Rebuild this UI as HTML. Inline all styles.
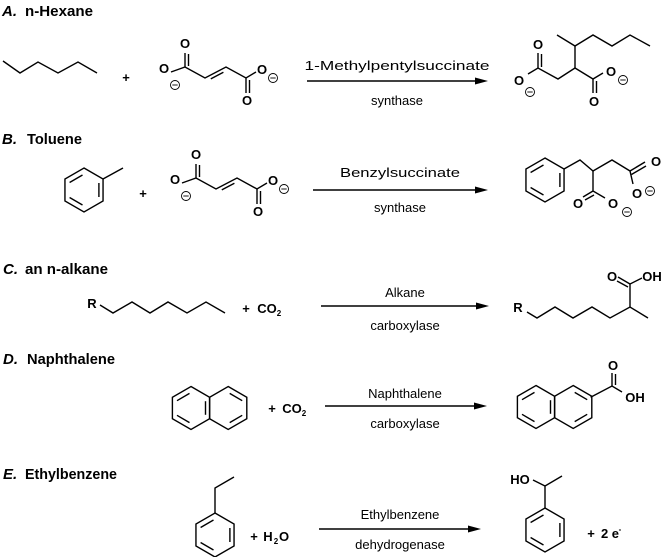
<!DOCTYPE html>
<html><head><meta charset="utf-8">
<style>
html,body{margin:0;padding:0;background:#fff;}
svg{display:block;}
text{font-family:"Liberation Sans Narrow","Liberation Sans",sans-serif;fill:#000;}
.t{font-weight:bold;font-size:15px;}
.a{font-size:13px;}
.o{font-weight:bold;font-size:13px;text-anchor:middle;}
.c{text-anchor:middle;}
</style></head>
<body>
<svg width="663" height="557" viewBox="0 0 663 557" xmlns="http://www.w3.org/2000/svg">
<defs>
<g id="bz" fill="none" stroke="#000" stroke-width="1.4">
<polygon points="0,-22 19.05,-11 19.05,11 0,22 -19.05,11 -19.05,-11"/>
<line x1="-14.4" y1="-7.5" x2="-1.5" y2="-15"/>
<line x1="14.9" y1="-7" x2="14.9" y2="7"/>
<line x1="-1.5" y1="15" x2="-14.4" y2="7.5"/>
</g>
<g id="np" fill="none" stroke="#000" stroke-width="1.4">
<polygon points="0,-21.5 18.6,-10.75 18.6,10.75 0,21.5 -18.6,10.75 -18.6,-10.75"/>
<polygon points="37.2,-21.5 55.8,-10.75 55.8,10.75 37.2,21.5 18.6,10.75 18.6,-10.75"/>
<line x1="-14" y1="-7.3" x2="-1.5" y2="-14.6"/>
<line x1="-1.5" y1="14.6" x2="-14" y2="7.3"/>
<line x1="14.5" y1="-6.8" x2="14.5" y2="6.8"/>
<line x1="38.7" y1="-14.6" x2="51.2" y2="-7.3"/>
<line x1="51.2" y1="7.3" x2="38.7" y2="14.6"/>
</g>
<g id="minus" fill="none" stroke="#000" stroke-width="0.9">
<circle cx="0" cy="0" r="4.5"/><line x1="-2.7" y1="0" x2="2.7" y2="0"/>
</g>
<g id="fum">
<g fill="none" stroke="#000" stroke-width="1.4">
<polyline points="171,72 185,67 205,78 226,67 246,78 256,72"/>
<line x1="210.8" y1="78.9" x2="223.4" y2="72.3"/>
<line x1="185" y1="67" x2="185" y2="53"/><line x1="188.5" y1="66" x2="188.5" y2="54"/>
<line x1="246" y1="78" x2="246" y2="93"/><line x1="249.5" y1="80" x2="249.5" y2="93"/>
</g>
<text class="o" x="185" y="48">O</text>
<text class="o" x="164" y="73">O</text>
<use href="#minus" x="175" y="85"/>
<text class="o" x="262" y="74">O</text>
<use href="#minus" x="273" y="78"/>
<text class="o" x="247" y="105">O</text>
</g>
</defs>

<!-- Titles -->
<text class="t" x="2" y="16" font-style="italic">A.</text><text class="t" x="25" y="16" textLength="68" lengthAdjust="spacingAndGlyphs">n-Hexane</text>
<text class="t" x="2" y="144" font-style="italic">B.</text><text class="t" x="27" y="144" textLength="55" lengthAdjust="spacingAndGlyphs">Toluene</text>
<text class="t" x="3" y="274" font-style="italic">C.</text><text class="t" x="25" y="274" textLength="83" lengthAdjust="spacingAndGlyphs">an n-alkane</text>
<text class="t" x="3" y="364" font-style="italic">D.</text><text class="t" x="27" y="364" textLength="88" lengthAdjust="spacingAndGlyphs">Naphthalene</text>
<text class="t" x="3" y="479" font-style="italic">E.</text><text class="t" x="25" y="479" textLength="92" lengthAdjust="spacingAndGlyphs">Ethylbenzene</text>

<g fill="none" stroke="#000" stroke-width="1.4">
<polyline points="3,61 20,73 38,62 58,73 78,62 97,73"/>
<polyline points="528,74 538,68 558,79 575,68 593,79 603,73"/>
<line x1="538" y1="68" x2="538" y2="53"/><line x1="541.5" y1="67" x2="541.5" y2="54"/>
<line x1="575" y1="68" x2="575" y2="46"/>
<polyline points="557,35 575,46 593,35 612,46 630,35 650,46"/>
<line x1="593" y1="79" x2="593" y2="93"/><line x1="596.5" y1="81" x2="596.5" y2="93"/>
<line x1="103" y1="179" x2="123" y2="168"/>
<polyline points="564,169 580,160 593,171 612,160 630,171 633,184"/>
<line x1="630" y1="171" x2="645" y2="162"/><line x1="631.5" y1="174.5" x2="646" y2="166"/>
<polyline points="593,171 593,191 605,198"/>
<line x1="593" y1="191" x2="583" y2="197"/><line x1="594" y1="195" x2="585" y2="200"/>
<polyline points="100,305 113,313 132,302 150,313 168,302 187,313 206,302 225,313"/>
<polyline points="527,312 537,318 555,307 573,318 592,307 610,318 630,307 648,318"/>
<polyline points="630,307 630,284 642,278"/>
<line x1="630" y1="284" x2="618" y2="277"/><line x1="628" y1="287" x2="617" y2="281"/>
<polyline points="590.6,397.3 612,386 622,392"/>
<line x1="612" y1="386" x2="612" y2="373"/><line x1="615.5" y1="385" x2="615.5" y2="374"/>
<polyline points="215,513 215,488 234,477"/>
<polyline points="545,508 545,486 562,476"/>
<line x1="545" y1="486" x2="533" y2="480"/>
<line x1="307" y1="81" x2="478" y2="81"/>
<line x1="313" y1="190" x2="478" y2="190"/>
<line x1="321" y1="306" x2="479" y2="306"/>
<line x1="325" y1="406" x2="477" y2="406"/>
<line x1="319" y1="529" x2="471" y2="529"/>
</g>
<g fill="#000">
<polygon points="488,81 475,77.5 475,84.5"/>
<polygon points="488,190 475,186.5 475,193.5"/>
<polygon points="489,306 476,302.5 476,309.5"/>
<polygon points="487,406 474,402.5 474,409.5"/>
<polygon points="481,529 468,525.5 468,532.5"/>
</g>

<text class="o" x="126" y="82">+</text>
<use href="#fum"/>
<text class="a c" x="397" y="70" textLength="185" lengthAdjust="spacingAndGlyphs">1-Methylpentylsuccinate</text>
<text class="a c" x="397" y="105">synthase</text>
<text class="o" x="538" y="49">O</text>
<text class="o" x="519" y="85">O</text><use href="#minus" x="530" y="92"/>
<text class="o" x="611" y="76">O</text><use href="#minus" x="623" y="80"/>
<text class="o" x="594" y="106">O</text>

<use href="#bz" x="84" y="190"/>
<text class="o" x="143" y="198">+</text>
<use href="#fum" transform="translate(11,111)"/>
<text class="a c" x="400" y="177" textLength="120" lengthAdjust="spacingAndGlyphs">Benzylsuccinate</text>
<text class="a c" x="400" y="212">synthase</text>
<use href="#bz" x="545" y="180"/>
<text class="o" x="656" y="166">O</text>
<text class="o" x="637" y="198">O</text><use href="#minus" x="650" y="191"/>
<text class="o" x="578" y="208">O</text>
<text class="o" x="613" y="208">O</text><use href="#minus" x="627" y="212"/>

<text class="o" x="92" y="308">R</text>
<text class="o" x="246" y="313">+</text><text class="o" x="267" y="313">CO</text><text class="o" x="279" y="316" style="font-size:8px">2</text>
<text class="a c" x="405" y="297">Alkane</text>
<text class="a c" x="405" y="330">carboxylase</text>
<text class="o" x="518" y="312">R</text>
<text class="o" x="612" y="281">O</text>
<text class="o" x="652" y="281">OH</text>

<use href="#np" x="191" y="408"/>
<text class="o" x="272" y="413">+</text><text class="o" x="292" y="413">CO</text><text class="o" x="304" y="416" style="font-size:8px">2</text>
<text class="a c" x="405" y="398">Naphthalene</text>
<text class="a c" x="405" y="428">carboxylase</text>
<use href="#np" x="536" y="407"/>
<text class="o" x="613" y="370">O</text>
<text class="o" x="635" y="402">OH</text>

<use href="#bz" x="215" y="535"/>
<text class="o" x="254" y="541">+</text><text class="o" x="268" y="541">H</text><text class="o" x="276" y="544" style="font-size:8px">2</text><text class="o" x="284" y="541">O</text>
<text class="a c" x="400" y="519">Ethylbenzene</text>
<text class="a c" x="400" y="549">dehydrogenase</text>
<use href="#bz" x="545" y="530"/>
<text class="o" x="520" y="484">HO</text>
<text class="o" x="591" y="538">+</text><text class="o" x="610" y="538">2 e</text><text class="o" x="620" y="532" style="font-size:8px">-</text>
</svg>
</body></html>
